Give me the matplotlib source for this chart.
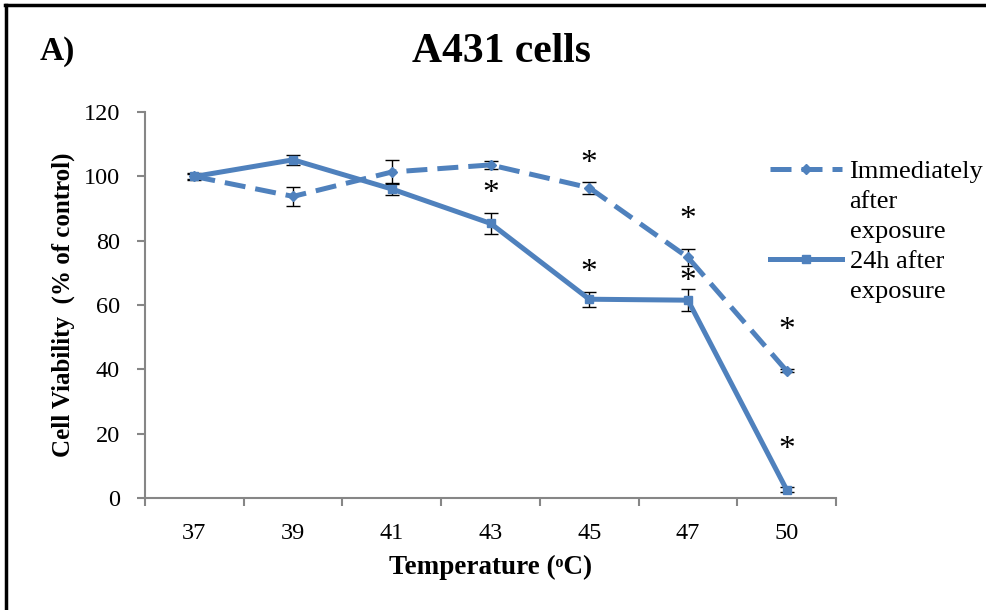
import numpy as np
import matplotlib
matplotlib.use("Agg")
import matplotlib.pyplot as plt
from matplotlib.lines import Line2D

# data
temps = ["37", "39", "41", "43", "45", "47", "50"]
immediate = [100, 93.8, 101.4, 103.6, 96.5, 74.8, 39.5]
immediate_err = [1.0, 3.0, 3.8, 1.3, 1.8, 2.7, 0.5]
after24 = [100, 105.2, 96.1, 85.4, 61.8, 61.5, 2.5]
after24_err = [0.8, 1.6, 1.9, 3.3, 2.3, 3.4, 0.8]

# significance asterisks (category index, y position)
star_idx = [3, 4, 4, 5, 5, 6, 6]
star_y = [94.5, 104, 70, 86.5, 67.2, 52, 15]

blue = "#4F81BD"
grey = "#868686"
plt.rcParams["font.family"] = ["Liberation Serif", "DejaVu Serif"]

fig = plt.figure(figsize=(9.87, 6.1), dpi=100)
ax = fig.add_axes([0.147, 0.184, 0.70, 0.632])

x = np.arange(len(temps))
dash = (0, (4.2, 2.0))

ax.errorbar(x, immediate, yerr=immediate_err, color=blue, lw=3.6, ls=dash,
            marker="D", ms=5, ecolor="black", elinewidth=1, capsize=5, capthick=1, zorder=3)
ax.errorbar(x, after24, yerr=after24_err, color=blue, lw=3.6, ls="-",
            marker="s", ms=6, ecolor="black", elinewidth=1, capsize=5, capthick=1, zorder=3)

for i, yv in zip(star_idx, star_y):
    ax.text(i, yv, "*", ha="center", va="center", fontsize=24)

ax.set_xlim(-0.5, len(temps) - 0.5)
ax.set_ylim(0, 120)
ax.set_yticks(np.arange(0, 121, 20))
ax.set_xticks(np.arange(-0.5, len(temps), 1.0))
ax.set_xticklabels([])
ax.set_xticks(x, minor=True)
ax.set_xticklabels(temps, minor=True)
ax.tick_params(axis="x", which="major", length=6, direction="out", color=grey, width=1.5)
ax.tick_params(axis="x", which="minor", length=0, pad=18, labelsize=17.5)
ax.tick_params(axis="y", length=6, direction="out", color=grey, width=1.5, labelsize=17.5, pad=12)

for s in ["top", "right"]:
    ax.spines[s].set_visible(False)
for s in ["left", "bottom"]:
    ax.spines[s].set_color(grey)
    ax.spines[s].set_linewidth(1.5)

ax.set_xlabel("Temperature (\u1d52C)", fontsize=19.5, fontweight="bold", labelpad=8)
ax.set_ylabel("Cell Viability  (% of control)", fontsize=18, fontweight="bold", labelpad=6)

# legend: one row per text line so each handle sits on the first line of its label
blank = Line2D([], [], color="none")
handles = [Line2D([], [], color=blue, lw=3.6, ls=dash, marker="D", ms=5), blank, blank,
           Line2D([], [], color=blue, lw=3.6, ls="-", marker="s", ms=6), blank]
labels = ["Immediately", "after", "exposure", "24h after", "exposure"]
ax.legend(handles, labels, loc="upper left", bbox_to_anchor=(0.905, 0.877), frameon=False,
          fontsize=19, handlelength=2.7, handletextpad=0.3, labelspacing=0.25,
          borderaxespad=0, borderpad=0)

fig.text(0.508, 0.915, "A431 cells", ha="center", va="center", fontsize=30, fontweight="bold")
fig.text(0.04, 0.915, "A)", ha="left", va="center", fontsize=24, fontweight="bold")

# frame lines around the panel (only top and left visible)
fig.add_artist(Line2D([0.005, 1.0], [0.992, 0.992], color="black", lw=2.5, transform=fig.transFigure))
fig.add_artist(Line2D([0.006, 0.006], [0.0, 0.992], color="black", lw=2.5, transform=fig.transFigure))

fig.savefig("out.png", dpi=100)
